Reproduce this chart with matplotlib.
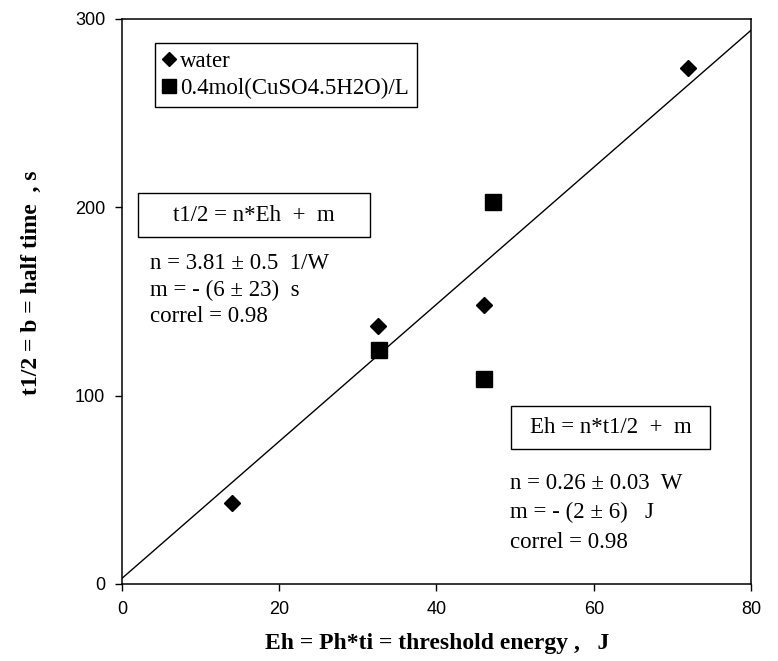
import matplotlib.pyplot as plt
from matplotlib.patches import Rectangle

# data
water_eh = [14.0, 32.5, 46.0, 72.0]
water_t = [43, 137, 148, 274]
cuso4_eh = [32.7, 46.1, 47.2]
cuso4_t = [124, 109, 203]
fit_eh = [0, 80]
fit_t = [3, 294]

x_ticks = [0, 20, 40, 60, 80]
y_ticks = [0, 100, 200, 300]

serif = 'Liberation Serif'
sans = 'Liberation Sans'
fs = 16.5

fig = plt.figure(figsize=(7.78, 6.61), dpi=100)
ax = fig.add_axes([0.1568, 0.1165, 0.8085, 0.8548])

ax.plot(fit_eh, fit_t, color='black', linewidth=1.0, zorder=1)
ax.plot(water_eh, water_t, linestyle='none', marker='D', markersize=8.5,
        color='black', label='water', zorder=3)
ax.plot(cuso4_eh, cuso4_t, linestyle='none', marker='s', markersize=11.5,
        color='black', label='0.4mol(CuSO4.5H2O)/L', zorder=3)

ax.set_xlim(0, 80)
ax.set_ylim(0, 300)
ax.set_xticks(x_ticks)
ax.set_yticks(y_ticks)
ax.tick_params(direction='out', length=5, width=1, labelsize=13, pad=7)
for lab in ax.get_xticklabels() + ax.get_yticklabels():
    lab.set_fontfamily(sans)
for sp in ax.spines.values():
    sp.set_linewidth(1.1)

ax.set_xlabel('Eh = Ph*ti = threshold energy ,   J', fontfamily=serif,
              fontweight='bold', fontsize=17)
ax.set_ylabel('t1/2 = b = half time  , s', fontfamily=serif,
              fontweight='bold', fontsize=17)
ax.xaxis.set_label_coords(0.501, -0.086)
ax.yaxis.set_label_coords(-0.128, 0.533)

leg = ax.legend(loc='upper left', bbox_to_anchor=(0.0525, 0.9575),
                borderaxespad=0, fancybox=False, framealpha=1,
                edgecolor='black', handlelength=0.55, handletextpad=0.22,
                borderpad=0.34, labelspacing=0.28, markerscale=0.85,
                prop={'family': serif, 'size': fs})
leg.get_frame().set_linewidth(1.0)

# first fit box
ax.add_patch(Rectangle((0.025, 0.614), 0.369, 0.078, transform=ax.transAxes,
                       fill=False, edgecolor='black', linewidth=1.0))
ax.text(0.2095, 0.653, 't1/2 = n*Eh  +  m', transform=ax.transAxes,
        ha='center', va='center', fontfamily=serif, fontsize=fs)
fit1 = ['n = 3.81 \u00b1 0.5  1/W', 'm = - (6 \u00b1 23)  s', 'correl = 0.98']
for txt, fy in zip(fit1, [0.568, 0.520, 0.473]):
    ax.text(0.0445, fy, txt, transform=ax.transAxes, ha='left', va='center',
            fontfamily=serif, fontsize=fs)

# second fit box
ax.add_patch(Rectangle((0.618, 0.239), 0.317, 0.076, transform=ax.transAxes,
                       fill=False, edgecolor='black', linewidth=1.0))
ax.text(0.7765, 0.277, 'Eh = n*t1/2  +  m', transform=ax.transAxes,
        ha='center', va='center', fontfamily=serif, fontsize=fs)
fit2 = ['n = 0.26 \u00b1 0.03  W', 'm = - (2 \u00b1 6)   J', 'correl = 0.98']
for txt, fy in zip(fit2, [0.177, 0.126, 0.074]):
    ax.text(0.617, fy, txt, transform=ax.transAxes, ha='left', va='center',
            fontfamily=serif, fontsize=fs)

fig.savefig('out.png', dpi=100)
